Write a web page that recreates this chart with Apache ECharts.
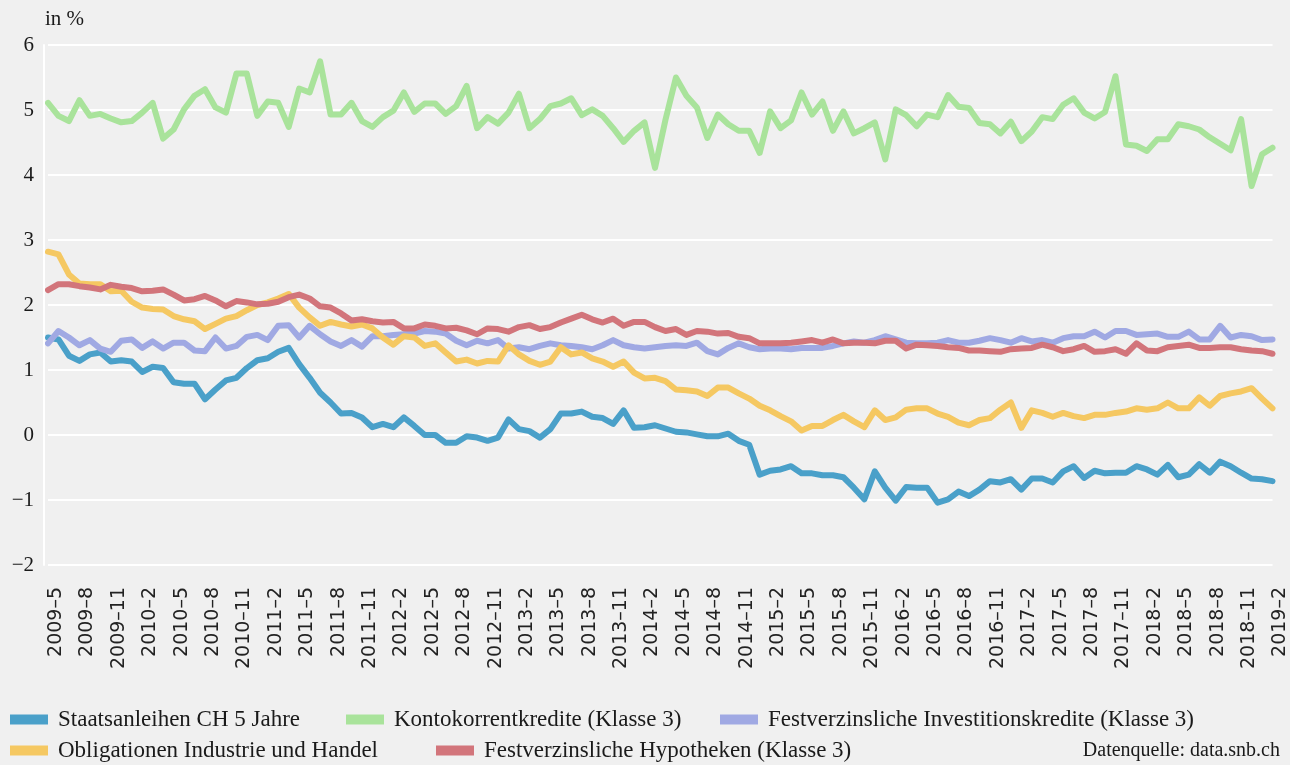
<!DOCTYPE html>
<html>
<head>
<meta charset="utf-8">
<title>Zinssätze Schweiz 2009–2019</title>
<script src="https://cdn.jsdelivr.net/npm/echarts@6/dist/echarts.min.js"></script>
<style>
  html, body { margin: 0; padding: 0; background: #f0f0f0; }
  #chart { width: 1290px; height: 765px; }
</style>
</head>
<body>
<div id="chart"></div>
<script>
// monthly categories 2009-5 .. 2019-2
var months = [];
for (var y = 2009; y <= 2019; y++) {
  for (var m = 1; m <= 12; m++) {
    if (y === 2009 && m < 5) continue;
    if (y === 2019 && m > 2) break;
    months.push(y + '–' + m);
  }
}

var seriesNames = [
  'Staatsanleihen CH 5 Jahre',
  'Kontokorrentkredite (Klasse 3)',
  'Festverzinsliche Investitionskredite (Klasse 3)',
  'Obligationen Industrie und Handel',
  'Festverzinsliche Hypotheken (Klasse 3)'
];

var staatsanleihen = [
  1.50, 1.47, 1.22, 1.14, 1.24, 1.27, 1.13, 1.15, 1.13, 0.97, 1.05, 1.03,
  0.81, 0.79, 0.79, 0.55, 0.70, 0.84, 0.88, 1.03, 1.15, 1.18, 1.28, 1.34,
  1.09, 0.88, 0.65, 0.50, 0.33, 0.34, 0.27, 0.12, 0.17, 0.12, 0.27, 0.14,
  0.00, 0.00, -0.12, -0.12, -0.02, -0.04, -0.09, -0.04, 0.24, 0.09, 0.06, -0.04,
  0.09, 0.33, 0.33, 0.36, 0.28, 0.26, 0.17, 0.38, 0.11, 0.12, 0.15, 0.10,
  0.05, 0.04, 0.01, -0.02, -0.02, 0.02, -0.09, -0.15, -0.61, -0.55, -0.53, -0.48,
  -0.59, -0.59, -0.62, -0.62, -0.65, -0.81, -0.99, -0.56, -0.81, -1.01, -0.80, -0.81,
  -0.81, -1.04, -0.99, -0.87, -0.94, -0.84, -0.71, -0.73, -0.68, -0.84, -0.67, -0.67,
  -0.73, -0.56, -0.48, -0.66, -0.55, -0.59, -0.58, -0.58, -0.48, -0.53, -0.61, -0.46,
  -0.65, -0.61, -0.45, -0.58, -0.41, -0.48, -0.58, -0.67, -0.68, -0.71
];

var kontokorrent = [
  5.11, 4.91, 4.83, 5.15, 4.91, 4.94, 4.87, 4.81, 4.83, 4.96, 5.11, 4.56,
  4.70, 5.01, 5.22, 5.32, 5.04, 4.96, 5.56, 5.56, 4.91, 5.13, 5.11, 4.74,
  5.33, 5.27, 5.75, 4.93, 4.93, 5.11, 4.83, 4.74, 4.89, 4.99, 5.27, 4.97,
  5.10, 5.10, 4.94, 5.06, 5.37, 4.72, 4.89, 4.79, 4.96, 5.25, 4.72, 4.86,
  5.06, 5.10, 5.18, 4.92, 5.01, 4.91, 4.72, 4.51, 4.68, 4.81, 4.11, 4.85,
  5.50, 5.22, 5.04, 4.57, 4.93, 4.78, 4.68, 4.68, 4.34, 4.98, 4.72, 4.84,
  5.27, 4.93, 5.13, 4.68, 4.98, 4.64, 4.72, 4.81, 4.24, 5.01, 4.92, 4.75,
  4.93, 4.89, 5.23, 5.05, 5.03, 4.80, 4.78, 4.64, 4.82, 4.52, 4.67, 4.89,
  4.86, 5.08, 5.18, 4.96, 4.87, 4.97, 5.52, 4.47, 4.45, 4.37, 4.55, 4.55,
  4.78, 4.75, 4.70, 4.58, 4.48, 4.38, 4.86, 3.83, 4.32, 4.42
];

var investitionskredite = [
  1.41, 1.60, 1.50, 1.38, 1.46, 1.33, 1.28, 1.45, 1.47, 1.34, 1.44, 1.33,
  1.42, 1.42, 1.30, 1.29, 1.50, 1.33, 1.37, 1.51, 1.54, 1.46, 1.68, 1.69,
  1.50, 1.68, 1.55, 1.44, 1.37, 1.46, 1.36, 1.52, 1.52, 1.54, 1.55, 1.56,
  1.60, 1.59, 1.56, 1.45, 1.38, 1.45, 1.41, 1.46, 1.33, 1.35, 1.32, 1.37,
  1.41, 1.38, 1.37, 1.35, 1.32, 1.38, 1.46, 1.38, 1.35, 1.33, 1.35, 1.37,
  1.38, 1.37, 1.42, 1.29, 1.24, 1.34, 1.41, 1.35, 1.32, 1.33, 1.33, 1.32,
  1.34, 1.34, 1.34, 1.37, 1.41, 1.44, 1.42, 1.46, 1.52, 1.47, 1.42, 1.41,
  1.41, 1.42, 1.46, 1.42, 1.42, 1.45, 1.49, 1.46, 1.42, 1.49, 1.44, 1.46,
  1.42, 1.49, 1.52, 1.52, 1.59, 1.50, 1.60, 1.60, 1.54, 1.55, 1.56, 1.51,
  1.51, 1.59, 1.47, 1.47, 1.68, 1.50, 1.54, 1.52, 1.46, 1.47
];

var obligationen = [
  2.82, 2.78, 2.47, 2.33, 2.32, 2.32, 2.21, 2.22, 2.05, 1.96, 1.94, 1.93,
  1.83, 1.78, 1.75, 1.63, 1.71, 1.79, 1.83, 1.92, 2.00, 2.04, 2.10, 2.17,
  1.96, 1.81, 1.68, 1.74, 1.70, 1.67, 1.70, 1.64, 1.50, 1.39, 1.52, 1.50,
  1.37, 1.41, 1.27, 1.13, 1.16, 1.10, 1.14, 1.13, 1.38, 1.24, 1.14, 1.08,
  1.13, 1.35, 1.24, 1.27, 1.18, 1.13, 1.05, 1.13, 0.96, 0.87, 0.88, 0.83,
  0.70, 0.69, 0.67, 0.60, 0.73, 0.73, 0.64, 0.56, 0.45, 0.38, 0.29, 0.21,
  0.07, 0.14, 0.14, 0.23, 0.31, 0.21, 0.12, 0.38, 0.23, 0.27, 0.39, 0.41,
  0.41, 0.33, 0.28, 0.19, 0.15, 0.23, 0.26, 0.39, 0.50, 0.11, 0.38, 0.34,
  0.28, 0.34, 0.29, 0.26, 0.31, 0.31, 0.34, 0.36, 0.41, 0.39, 0.41, 0.50,
  0.41, 0.41, 0.58, 0.45, 0.60, 0.64, 0.67, 0.72, 0.56, 0.41
];

var hypotheken = [
  2.23, 2.32, 2.32, 2.29, 2.27, 2.24, 2.31, 2.28, 2.26, 2.21, 2.22, 2.24,
  2.16, 2.07, 2.09, 2.14, 2.07, 1.98, 2.06, 2.04, 2.01, 2.02, 2.05, 2.12,
  2.16, 2.10, 1.98, 1.96, 1.87, 1.76, 1.78, 1.75, 1.73, 1.74, 1.64, 1.64,
  1.70, 1.68, 1.64, 1.65, 1.61, 1.55, 1.64, 1.63, 1.59, 1.66, 1.69, 1.63,
  1.66, 1.73, 1.79, 1.85, 1.78, 1.73, 1.79, 1.68, 1.74, 1.74, 1.66, 1.60,
  1.63, 1.54, 1.60, 1.59, 1.56, 1.57, 1.51, 1.49, 1.41, 1.41, 1.41, 1.42,
  1.44, 1.46, 1.42, 1.47, 1.41, 1.42, 1.42, 1.41, 1.45, 1.45, 1.33, 1.39,
  1.38, 1.37, 1.35, 1.34, 1.30, 1.30, 1.29, 1.28, 1.32, 1.33, 1.34, 1.39,
  1.35, 1.29, 1.32, 1.37, 1.28, 1.29, 1.32, 1.25, 1.41, 1.30, 1.29, 1.35,
  1.37, 1.39, 1.34, 1.34, 1.35, 1.35, 1.32, 1.30, 1.29, 1.25
];

var colors = ['#4aa0c9', '#a9e39b', '#a0a9e3', '#f5c862', '#d2757b'];
var seriesData = [staatsanleihen, kontokorrent, investitionskredite, obligationen, hypotheken];

var serifFont = '"Liberation Serif", "DejaVu Serif", serif';
var textColor = '#1a1a1a';

// one legend per entry, so the rows sit like in the original
var legendSpots = [
  { left: 10, top: 708 },
  { left: 346, top: 708 },
  { left: 720, top: 708 },
  { left: 10, top: 739 },
  { left: 436, top: 739 }
];
var legends = legendSpots.map(function (spot, i) {
  return {
    left: spot.left,
    top: spot.top,
    padding: 0,
    icon: 'rect',
    itemWidth: 38,
    itemHeight: 10,
    selectedMode: false,
    data: [seriesNames[i]],
    textStyle: {
      fontFamily: serifFont,
      fontSize: 23,
      color: textColor,
      padding: [0, 0, 0, 5]
    }
  };
});

var chart = echarts.init(document.getElementById('chart'));

var option = {
  backgroundColor: '#f0f0f0',
  animation: false,
  color: colors,
  grid: { left: 48, right: 12, top: 45, bottom: 200 },
  legend: legends,
  graphic: [
    {
      type: 'text',
      left: 45,
      top: 9,
      style: { text: 'in %', font: '21px ' + serifFont, fill: textColor }
    },
    {
      type: 'text',
      right: 10,
      top: 741,
      style: { text: 'Datenquelle: data.snb.ch', font: '20px ' + serifFont, fill: textColor }
    }
  ],
  xAxis: {
    type: 'category',
    data: months,
    boundaryGap: false,
    axisLine: { show: false },
    axisTick: { show: false },
    splitLine: { show: false },
    axisLabel: {
      interval: 2,
      rotate: 90,
      margin: 22,
      verticalAlign: 'top',
      lineHeight: 16,
      fontFamily: '"DejaVu Sans", sans-serif',
      fontSize: 19,
      color: '#222'
    }
  },
  yAxis: {
    type: 'value',
    min: -2,
    max: 6,
    interval: 1,
    offset: 4,
    axisLine: { show: true, lineStyle: { color: '#ffffff', width: 2 } },
    axisTick: { show: false },
    splitLine: { lineStyle: { color: '#ffffff', width: 2 } },
    axisLabel: {
      margin: 10,
      fontFamily: serifFont,
      fontSize: 21,
      color: textColor,
      formatter: function (v) { return String(v).replace('-', '−'); }
    }
  },
  series: seriesData.map(function (d, i) {
    return {
      name: seriesNames[i],
      type: 'line',
      data: d,
      showSymbol: false,
      symbol: 'none',
      silent: true,
      lineStyle: { width: 6, color: colors[i], cap: 'round', join: 'round' }
    };
  })
};

chart.setOption(option);
</script>
</body>
</html>
